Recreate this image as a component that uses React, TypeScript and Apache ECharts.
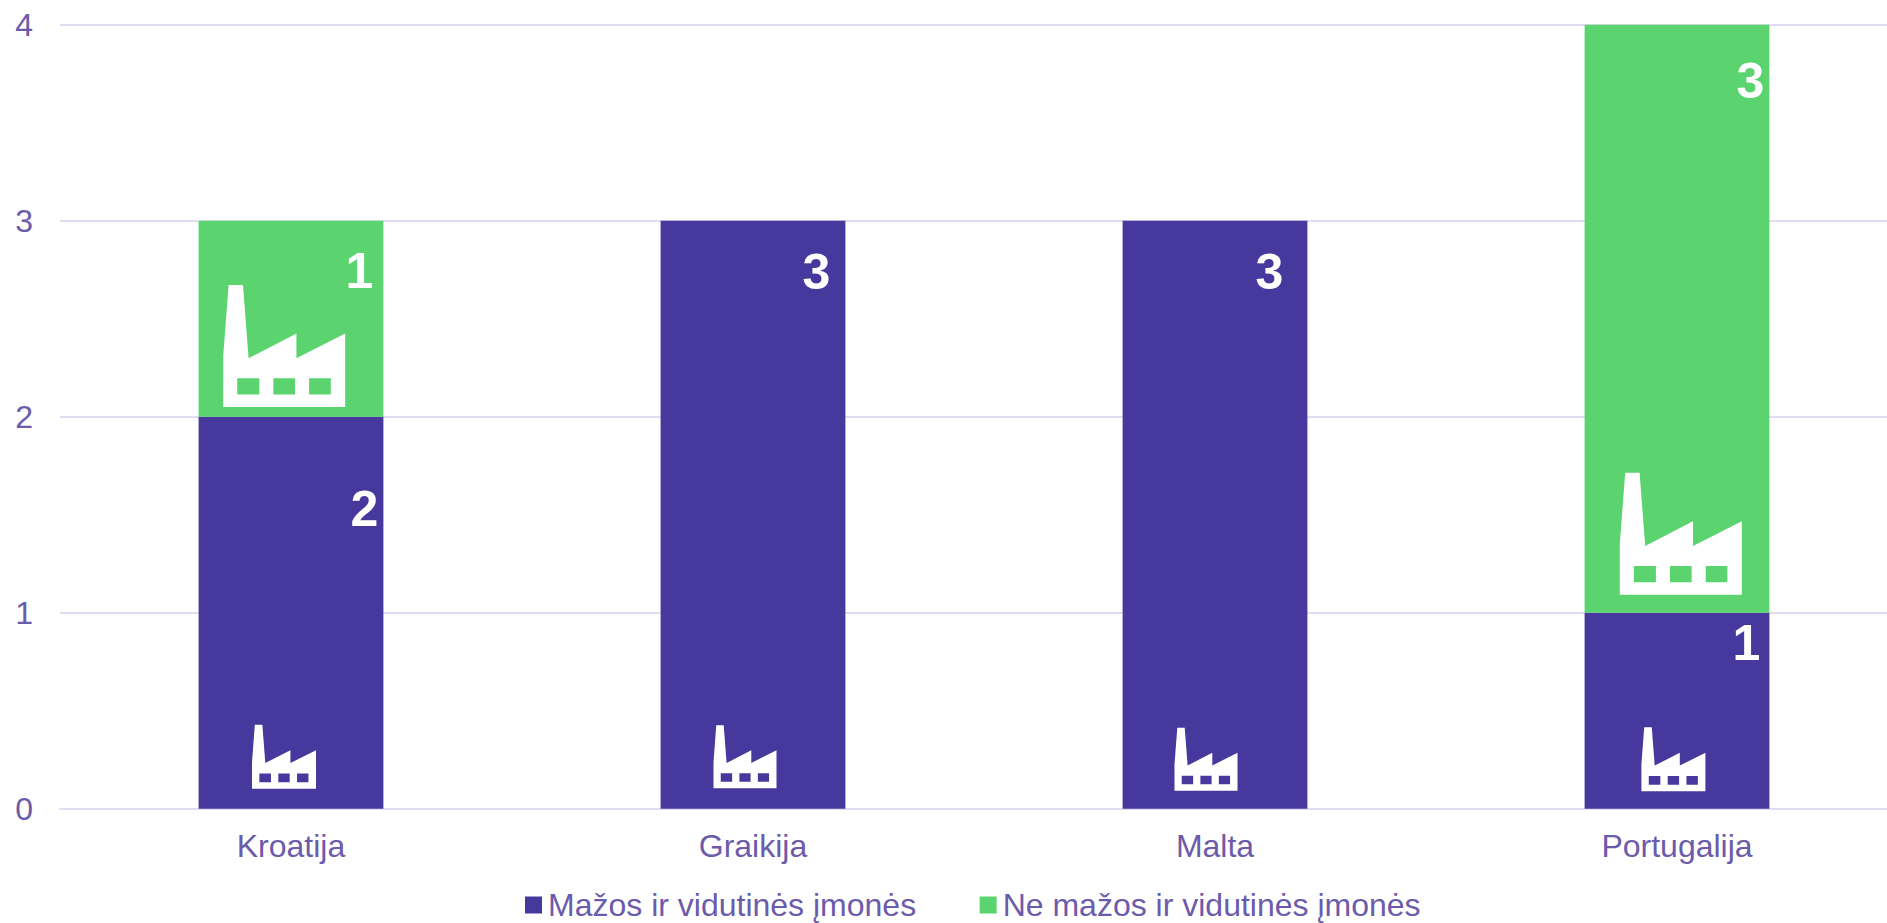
import React, { useEffect, useRef } from "react";
import * as echarts from "echarts";

const categories = ["Kroatija", "Graikija", "Malta", "Portugalija"];
const smeName = "Mažos ir vidutinės įmonės";
const otherName = "Ne mažos ir vidutinės įmonės";
const smeValues = [2, 3, 3, 1];
const otherValues = [1, null, null, 3];
const yTicks = [0, 1, 2, 3, 4];

// factory icons: [category index, value the icon sits on, look index]
const iconMarks = [
  [0, 0, 0],
  [1, 0, 1],
  [2, 0, 2],
  [3, 0, 3],
  [0, 2, 4],
  [3, 1, 5],
];

// look of each icon: pixel size, x shift from the bar centre, gap above the base
const iconLooks = [
  { size: 64, dx: -7, gap: 20 },
  { size: 63, dx: -8, gap: 20.5 },
  { size: 63, dx: -9, gap: 18 },
  { size: 64, dx: -3.6, gap: 17.5 },
  { size: 122, dx: -6.8, gap: 9.7 },
  { size: 122, dx: 3.8, gap: 18 },
];

// value label placement: inset from the bar's right edge, drop from the bar's top
const smeLabelPlace = [
  { inset: 5, drop: 67 },
  { inset: 15, drop: 26 },
  { inset: 24, drop: 26 },
  { inset: 9, drop: 5 },
];
const otherLabelPlace = [
  { inset: 10, drop: 25 },
  null,
  null,
  { inset: 5, drop: 31 },
];

const FACTORY =
  "M0 58.5L4.4 0L16.2 0L20.8 60L60 39.8L60 60L100 39.8L100 100L0 100Z" +
  "M11.5 76.4L11.5 89.8L29.6 89.8L29.6 76.4Z" +
  "M41.1 76.4L41.1 89.8L58.9 89.8L58.9 76.4Z" +
  "M70.4 76.4L70.4 89.8L88.2 89.8L88.2 76.4Z";

const FONT = "'Liberation Sans', Arial, sans-serif";
const TEXT = "#6c5baa";
const GRID = "#e1dcf1";
const BLUE = "#46389d";
const GREEN = "#5bd46f";

const barData = (values: (number | null)[], places: ({ inset: number; drop: number } | null)[]) =>
  values.map((v, i) => {
    const p = places[i];
    if (v === null || !p) return { value: null };
    return { value: v, label: { offset: [-p.inset, p.drop] } };
  });

const barLabel = {
  show: true,
  position: "insideTopRight",
  distance: 0,
  color: "#fff",
  fontFamily: FONT,
  fontWeight: "bold",
  fontSize: 50,
  lineHeight: 50,
};

export default function App() {
  const ref = useRef<HTMLDivElement>(null);
  useEffect(() => {
    const chart = echarts.init(ref.current!, undefined, { renderer: "svg" });
    chart.setOption({
      animation: false,
      backgroundColor: "#fff",
      textStyle: { fontFamily: FONT },
      grid: { left: 60, top: 24.7, width: 1848, height: 784, containLabel: false },
      legend: {
        left: 525,
        top: 889,
        padding: 0,
        icon: "rect",
        itemWidth: 17,
        itemHeight: 17,
        itemGap: 63.5,
        data: [smeName, otherName],
        selectedMode: false,
        textStyle: { color: TEXT, fontSize: 32, fontFamily: FONT, padding: [0, 0, 0, 1] },
      },
      xAxis: {
        type: "category",
        data: categories,
        axisTick: { show: false },
        axisLine: { show: true, lineStyle: { color: GRID, width: 2 } },
        axisLabel: { color: TEXT, fontSize: 32, fontFamily: FONT, margin: 21 },
      },
      yAxis: {
        type: "value",
        min: 0,
        max: yTicks[yTicks.length - 1],
        interval: 1,
        axisLine: { show: false },
        axisTick: { show: false },
        axisLabel: { color: TEXT, fontSize: 32, fontFamily: FONT, margin: 27 },
        splitLine: { show: true, lineStyle: { color: GRID, width: 2 } },
      },
      series: [
        {
          name: smeName,
          type: "bar",
          stack: "total",
          barWidth: "40%",
          itemStyle: { color: BLUE },
          label: barLabel,
          data: barData(smeValues, smeLabelPlace),
        },
        {
          name: otherName,
          type: "bar",
          stack: "total",
          barWidth: "40%",
          itemStyle: { color: GREEN },
          label: barLabel,
          data: barData(otherValues, otherLabelPlace),
        },
        {
          type: "custom",
          silent: true,
          z: 5,
          clip: false,
          encode: { x: 0, y: 1 },
          data: iconMarks,
          renderItem: (_p: any, api: any) => {
            const [cx, by] = api.coord([api.value(0), api.value(1)]);
            const look = iconLooks[api.value(2)];
            return {
              type: "path",
              shape: {
                pathData: FACTORY,
                layout: "cover",
                x: cx + look.dx - look.size / 2,
                y: by - look.gap - look.size,
                width: look.size,
                height: look.size,
              },
              style: { fill: "#fff" },
            };
          },
        },
      ],
    });
    return () => chart.dispose();
  }, []);
  return (
    <div style={{ position: "fixed", left: 0, top: 0, width: 1887, height: 923, overflow: "hidden" }}>
      <div ref={ref} style={{ width: 1910, height: 923 }} />
    </div>
  );
}
